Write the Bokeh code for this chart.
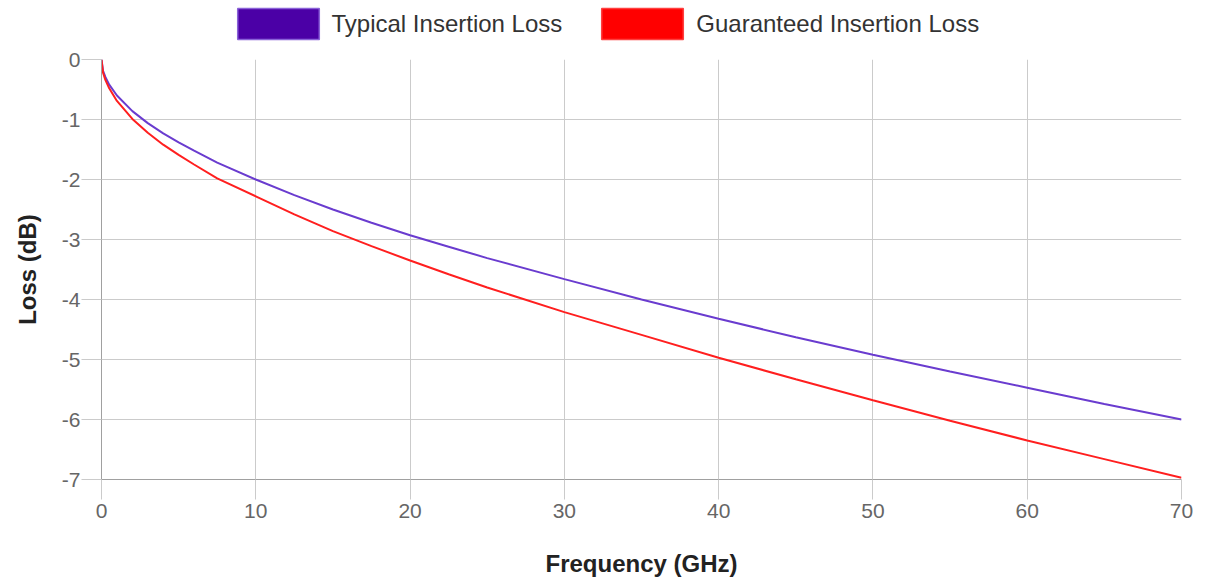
from bokeh.plotting import figure
from bokeh.layouts import column
from bokeh.models import Range1d, FixedTicker, Legend, LegendItem, ColumnDataSource, PrintfTickFormatter
from bokeh.embed import file_html
from bokeh.resources import INLINE

# Frequency points (GHz) and losses (dB)
freq = [0, 0.1, 0.25, 0.5, 1, 2, 3, 4, 5, 6, 7.5, 10, 12.5, 15, 17.5, 20, 22.5, 25, 30, 35,
        40, 45, 50, 55, 60, 65, 70]
typical_loss = [0, -0.19, -0.29, -0.42, -0.60, -0.86, -1.06, -1.23, -1.38, -1.52, -1.72, -2.00,
                -2.26, -2.50, -2.72, -2.93, -3.12, -3.31, -3.66, -4.00,
                -4.32, -4.63, -4.92, -5.20, -5.47, -5.74, -6.00]
guaranteed_loss = [0, -0.22, -0.34, -0.48, -0.69, -0.99, -1.22, -1.42, -1.59, -1.75, -1.98, -2.28,
                   -2.58, -2.86, -3.11, -3.35, -3.58, -3.80, -4.21, -4.59,
                   -4.97, -5.33, -5.68, -6.02, -6.35, -6.66, -6.97]

x_ticks = [0, 10, 20, 30, 40, 50, 60, 70]
y_ticks = [0, -1, -2, -3, -4, -5, -6, -7]

series_names = ["Typical Insertion Loss", "Guaranteed Insertion Loss"]
line_colors = ["#6a3ccf", "#ff1f1f"]
box_fill = ["#4b00a6", "#ff0000"]
box_line = ["#8a62d8", "#ff4040"]

FONT = "Liberation Sans"
GRID = "#cbcbcb"

W = 1206

# ---- header figure holding the legend ----
head = figure(width=W, height=44, output_backend="svg", toolbar_location=None,
              x_range=Range1d(0, 1), y_range=Range1d(0, 1), x_axis_type=None, y_axis_type=None,
              min_border_left=0, min_border_right=0, min_border_top=0, min_border_bottom=0)
head.outline_line_color = None
head.xgrid.visible = False
head.ygrid.visible = False

items = []
for name, fc, lc in zip(series_names, box_fill, box_line):
    # swatch renderer kept outside the visible range; only its legend box shows
    r = head.quad(left=[-3], right=[-2], top=[-3], bottom=[-2],
                  fill_color=fc, line_color=lc, line_width=1.5)
    items.append(LegendItem(label=name, renderers=[r]))

legend = Legend(items=items, orientation="horizontal", location=(125.5, 1),
                glyph_width=102, glyph_height=39, label_standoff=3, spacing=29,
                padding=0, margin=0, border_line_color=None, background_fill_alpha=0,
                label_text_font=FONT, label_text_font_size="24px", label_text_color="#333333",
                label_height=39)
head.add_layout(legend, "center")

# ---- main chart ----
p = figure(width=W, height=540, output_backend="svg", toolbar_location=None,
           x_range=Range1d(0, 70), y_range=Range1d(-7, 0),
           min_border_left=101, min_border_right=25, min_border_top=15, min_border_bottom=105)
p.outline_line_color = None

src = ColumnDataSource(dict(f=freq, t=typical_loss, g=guaranteed_loss))
p.line("f", "t", source=src, line_color=line_colors[0], line_width=2)
p.line("f", "g", source=src, line_color=line_colors[1], line_width=2)

for ax in (p.xaxis[0], p.yaxis[0]):
    ax.major_label_text_font = FONT
    ax.major_label_text_font_size = "21px"
    ax.major_label_text_color = "#666666"
    ax.axis_label_text_font = FONT
    ax.axis_label_text_font_size = "24px"
    ax.axis_label_text_font_style = "bold"
    ax.axis_label_text_color = "#222222"
    ax.axis_line_color = "#a0a0a0"
    ax.major_tick_line_color = GRID
    ax.major_tick_out = 20
    ax.major_tick_in = 0
    ax.minor_tick_line_color = None
    ax.formatter = PrintfTickFormatter(format="%d")

p.xaxis[0].ticker = FixedTicker(ticks=x_ticks)
p.yaxis[0].ticker = FixedTicker(ticks=y_ticks)
p.xaxis[0].axis_label = "Frequency (GHz)"
p.yaxis[0].axis_label = "Loss (dB)"
p.xaxis[0].major_label_standoff = 4
p.yaxis[0].major_label_standoff = 1
p.xaxis[0].axis_label_standoff = 29
p.yaxis[0].axis_label_standoff = 18

p.xgrid.ticker = FixedTicker(ticks=x_ticks)
p.ygrid.ticker = FixedTicker(ticks=y_ticks)
p.xgrid.grid_line_color = GRID
p.ygrid.grid_line_color = GRID

layout = column(head, p, spacing=0)
open("out.html", "w").write(file_html(layout, INLINE))
